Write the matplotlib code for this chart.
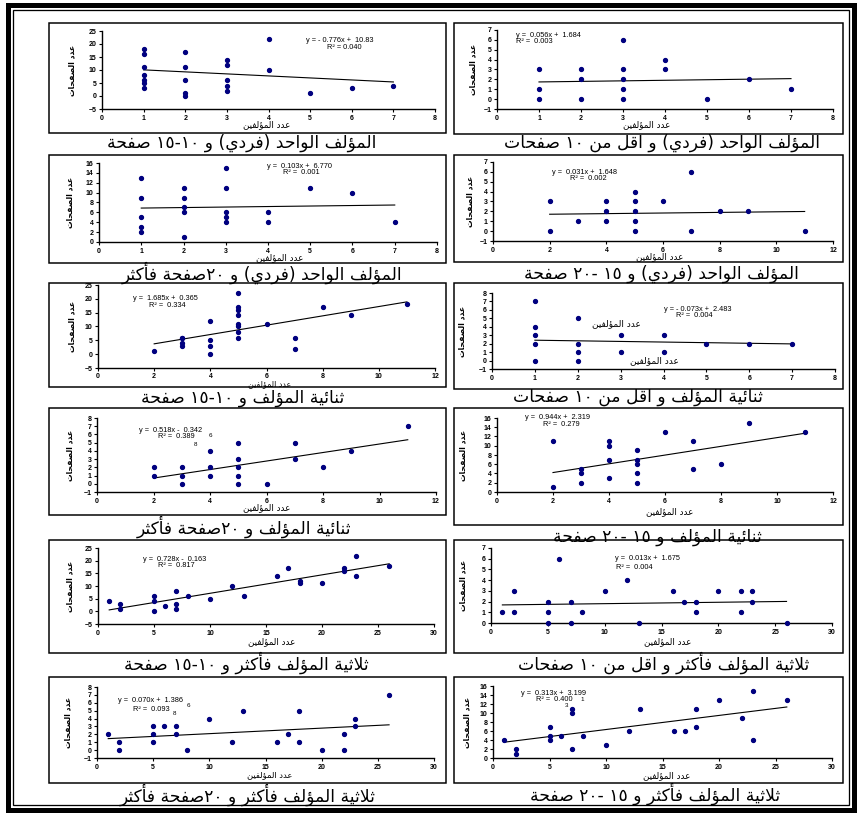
import re
import matplotlib
matplotlib.use('Agg')
import matplotlib.pyplot as plt
from matplotlib.patches import Rectangle

W, H = 859, 813

# ---------------- data ----------------
a_x = [1, 1, 1, 1, 1, 1, 1, 2, 2, 2, 2, 2, 3, 3, 3, 3, 3, 4, 4, 5, 6, 7]
a_y = [18, 16, 11, 8, 6, 5, 3, 17, 11, 6, 1, 0, 14, 12, 6, 4, 2, 22, 10, 1, 3, 4]

b_x = [1, 1, 1, 2, 2, 2, 3, 3, 3, 3, 3, 4, 4, 5, 6, 7]
b_y = [3, 1, 0, 3, 2, 0, 6, 3, 2, 1, 0, 4, 3, 0, 2, 1]

c_x = [1, 1, 1, 1, 1, 2, 2, 2, 2, 2, 3, 3, 3, 3, 3, 4, 4, 5, 6, 7]
c_y = [13, 9, 5, 3, 2, 11, 9, 7, 6, 1, 15, 11, 6, 5, 4, 6, 4, 11, 10, 4]

d_x = [2, 2, 3, 4, 4, 4, 5, 5, 5, 5, 5, 6, 7, 7, 8, 9, 11]
d_y = [3, 0, 1, 3, 2, 1, 4, 3, 2, 1, 0, 3, 6, 0, 2, 2, 0]

e_x = [2, 3, 3, 3, 3, 4, 4, 4, 4, 5, 5, 5, 5, 5, 5, 5, 5, 6, 7, 7, 8, 9, 11]
e_y = [1, 6, 6, 4, 3, 12, 5, 3, 0, 22, 17, 16, 14, 11, 10, 8, 6, 11, 6, 2, 17, 14, 18]

f_x = [1, 1, 1, 1, 1, 2, 2, 2, 2, 3, 3, 4, 4, 5, 6, 7]
f_y = [7, 4, 3, 2, 0, 5, 2, 1, 0, 3, 1, 3, 1, 2, 2, 2]

g_x = [2, 2, 3, 3, 3, 4, 4, 4, 5, 5, 5, 5, 5, 6, 7, 7, 8, 9, 11]
g_y = [2, 1, 2, 1, 0, 4, 2, 1, 5, 3, 2, 1, 0, 0, 5, 3, 2, 4, 7]

h_x = [2, 2, 3, 3, 3, 4, 4, 4, 4, 5, 5, 5, 5, 5, 6, 7, 7, 8, 9, 11]
h_y = [11, 1, 5, 4, 2, 11, 10, 7, 3, 9, 7, 6, 4, 2, 13, 11, 5, 6, 15, 13]

i_x = [1, 2, 2, 5, 5, 5, 6, 7, 7, 7, 8, 10, 12, 13, 16, 17, 18, 18, 20, 22, 22, 23, 23, 26]
i_y = [4, 3, 1, 6, 4, 0, 2, 8, 3, 1, 6, 5, 10, 6, 14, 17, 12, 11, 11, 17, 16, 22, 14, 18]

j_x = [1, 2, 2, 5, 5, 5, 6, 7, 7, 8, 10, 12, 13, 16, 17, 18, 18, 20, 22, 22, 23, 23, 26]
j_y = [1, 3, 1, 2, 1, 0, 6, 2, 0, 1, 3, 4, 0, 3, 2, 2, 1, 3, 3, 1, 3, 2, 0]

k_x = [1, 2, 2, 5, 5, 5, 6, 7, 7, 8, 10, 12, 13, 16, 17, 18, 18, 20, 22, 22, 23, 23, 26]
k_y = [2, 1, 0, 3, 2, 1, 3, 3, 2, 0, 4, 1, 5, 1, 2, 5, 1, 0, 2, 0, 4, 3, 7]

l_x = [1, 2, 2, 5, 5, 5, 6, 7, 7, 7, 8, 10, 12, 13, 16, 17, 18, 18, 20, 22, 23, 23, 26]
l_y = [4, 2, 1, 7, 5, 4, 5, 11, 10, 2, 5, 3, 6, 11, 6, 6, 11, 7, 13, 9, 15, 4, 13]

slopes = [-0.776, 0.056, 0.103, 0.031, 1.685, -0.073, 0.518, 0.944, 0.728, 0.013, 0.070, 0.313]
intercepts = [10.83, 1.684, 6.770, 1.648, 0.365, 2.483, -0.342, 2.319, -0.163, 1.675, 1.386, 3.199]

eq_labels = ["y = - 0.776x +  10.83", "y =  0.056x +  1.684", "y =  0.103x +  6.770",
             "y =  0.031x +  1.648", "y =  1.685x +  0.365", "y = - 0.073x +  2.483",
             "y =  0.518x -  0.342", "y =  0.944x +  2.319", "y =  0.728x -  0.163",
             "y =  0.013x +  1.675", "y =  0.070x +  1.386", "y =  0.313x +  3.199"]
r2_labels = ["R² = 0.040", "R² =  0.003", "R² =  0.001", "R² =  0.002", "R² =  0.334",
             "R² =  0.004", "R² =  0.389", "R² =  0.279", "R² =  0.817", "R² =  0.004",
             "R² =  0.093", "R² =  0.400"]

titles = ["المؤلف الواحد (فردي) و ١٠-١٥ صفحة",
          "المؤلف الواحد (فردي) و اقل من ١٠ صفحات",
          "المؤلف الواحد (فردي) و ٢٠صفحة فأكثر",
          "المؤلف الواحد (فردي) و ١٥ -٢٠ صفحة",
          "ثنائية المؤلف و ١٠-١٥ صفحة",
          "ثنائية المؤلف و اقل من ١٠ صفحات",
          "ثنائية المؤلف و ٢٠صفحة فأكثر",
          "ثنائية المؤلف و ١٥ -٢٠ صفحة",
          "ثلاثية المؤلف فأكثر و ١٠-١٥ صفحة",
          "ثلاثية المؤلف فأكثر و اقل من ١٠ صفحات",
          "ثلاثية المؤلف فأكثر و ٢٠صفحة فأكثر",
          "ثلاثية المؤلف فأكثر و ١٥ -٢٠ صفحة"]
x_label = "عدد المؤلفين"
y_label = "عدد الصفحات"

y_limits = [(-5, 25), (-1, 7), (0, 16), (-1, 7), (-5, 25), (-1, 8),
            (-1, 8), (0, 16), (-5, 25), (0, 7), (-1, 8), (0, 16)]
y_steps = [5, 1, 2, 1, 5, 1, 1, 2, 5, 1, 1, 2]
x_limits = [(0, 8), (0, 8), (0, 8), (0, 12), (0, 12), (0, 8),
            (0, 12), (0, 12), (0, 30), (0, 30), (0, 30), (0, 30)]
x_steps = [1, 1, 1, 2, 2, 1, 2, 2, 5, 5, 5, 5]

xs = [a_x, b_x, c_x, d_x, e_x, f_x, g_x, h_x, i_x, j_x, k_x, l_x]
ys = [a_y, b_y, c_y, d_y, e_y, f_y, g_y, h_y, i_y, j_y, k_y, l_y]

# ---------------- Arabic shaping / visual ordering ----------------
_order = [('ء', 1), ('آ', 2), ('أ', 2), ('ؤ', 2), ('إ', 2), ('ئ', 4), ('ا', 2), ('ب', 4),
          ('ة', 2), ('ت', 4), ('ث', 4), ('ج', 4), ('ح', 4), ('خ', 4), ('د', 2), ('ذ', 2),
          ('ر', 2), ('ز', 2), ('س', 4), ('ش', 4), ('ص', 4), ('ض', 4), ('ط', 4), ('ظ', 4),
          ('ع', 4), ('غ', 4), ('ف', 4), ('ق', 4), ('ك', 4), ('ل', 4), ('م', 4), ('ن', 4),
          ('ه', 4), ('و', 2), ('ى', 2), ('ي', 4)]
FORMS = {}
_cp = 0xFE80
for _ch, _n in _order:
    FORMS[_ch] = [chr(_cp + k) for k in range(_n)]
    _cp += _n
LAMALEF = {'آ': ('\uFEF5', '\uFEF6'), 'أ': ('\uFEF7', '\uFEF8'),
           'إ': ('\uFEF9', '\uFEFA'), 'ا': ('\uFEFB', '\uFEFC')}


def _dual(ch):
    return ch in FORMS and len(FORMS[ch]) == 4


def _joining(ch):
    return ch in FORMS and len(FORMS[ch]) > 1


def shape(s):
    out = []
    i, n = 0, len(s)
    while i < n:
        c = s[i]
        pj = i > 0 and _dual(s[i - 1])
        if c == 'ل' and i + 1 < n and s[i + 1] in LAMALEF:
            iso, fin = LAMALEF[s[i + 1]]
            out.append(fin if pj else iso)
            i += 2
            continue
        if _joining(c):
            f = FORMS[c]
            nj = i + 1 < n and _joining(s[i + 1])
            if len(f) == 4:
                if pj and nj:
                    out.append(f[3])
                elif pj:
                    out.append(f[1])
                elif nj:
                    out.append(f[2])
                else:
                    out.append(f[0])
            else:
                out.append(f[1] if pj else f[0])
        else:
            out.append(c)
        i += 1
    return ''.join(out)


MIRROR = {'(': ')', ')': '('}
DIG = '0-9\u0660-\u0669'


def visual(s):
    toks = re.findall(r'[%s]+(?:[.,][%s]+)*|[^%s]+' % (DIG, DIG, DIG), s)
    out = []
    for t in reversed(toks):
        if re.match(r'[%s]' % DIG, t):
            out.append(t)
        else:
            out.append(''.join(MIRROR.get(ch, ch) for ch in reversed(t)))
    return ''.join(out)


def ar(s):
    return visual(shape(s))


# ---------------- layout (pixels) ----------------
ax_px = [(102, 435, 31, 109), (497, 833, 30, 109),
         (99, 437, 163, 242), (493, 833, 162, 241),
         (98, 435, 285, 368), (492, 835, 293, 369),
         (97, 436, 418, 492), (497, 833, 418, 492),
         (98, 434, 548, 624), (491, 832, 548, 623),
         (97, 434, 687, 758), (493, 832, 686, 758)]
box_rows = [(23, 133), (23, 134), (155, 263), (155, 262), (283, 387), (283, 389),
            (408, 515), (408, 525), (540, 653), (540, 653), (677, 783), (677, 783)]
box_cols = [(49, 446), (454, 843)]
title_px = [(242, 143), (662, 143), (262, 273), (661, 274), (243, 398), (638, 397),
            (244, 527), (657, 537), (246, 663), (664, 663), (248, 795), (655, 794)]
xlabel_px = [(267, 125), (647, 125), (280, 258), (660, 257), (270, 383.5), None,
             (267, 508), (670, 512), (272, 642), (668, 642), (270, 775), (667, 776)]
ylabel_x = [72, 473, 70, 470, 72, 462, 70, 463, 70, 463, 68, 467]
eq_pos = [((4.9, 21.5), (5.4, 18.8)), ((0.45, 6.4), (0.45, 5.8)),
          ((3.97, 15.2), (4.35, 14.0)), ((2.1, 5.9), (2.7, 5.3)),
          ((1.25, 20.3), (1.8, 17.7)), ((4.0, 6.0), (4.3, 5.3)),
          ((1.5, 6.5), (2.15, 5.8)), ((1.0, 16.2), (1.65, 14.6)),
          ((4.0, 20.6), (5.4, 18.2)), ((10.9, 6.0), (11.0, 5.2)),
          ((1.9, 6.35), (3.2, 5.2)), ((2.5, 14.4), (3.8, 13.1))]
stray = {6: [("6", 4.0, 5.9), ("8", 3.5, 4.8)],
         10: [("6", 8.1, 5.6), ("8", 6.9, 4.7)],
         11: [("1", 7.9, 13.1), ("3", 6.5, 11.6)]}
inner_xlabels = {5: [(2.9, 4.35), (3.8, 0.05)]}

PT = 72.0 / 100.0  # points per pixel
AR_FONT = 'DejaVu Sans'
NUM_FONT = 'Liberation Sans'
NAVY = '#00007f'


def fx(px):
    return px / W


def fy(py):
    return 1 - py / H


fig = plt.figure(figsize=(W / 100, H / 100), dpi=100)
fig.patch.set_facecolor('white')

# outer double frame
fig.add_artist(Rectangle((fx(7.5), fy(809.5)), (853.5 - 7.5) / W, (809.5 - 5.5) / H,
                         transform=fig.transFigure, fill=False, lw=5 * PT, ec='black'))
fig.add_artist(Rectangle((fx(12.5), fy(805)), (848.5 - 12.5) / W, (805 - 10.5) / H,
                         transform=fig.transFigure, fill=False, lw=1.3 * PT, ec='black'))

for p in range(12):
    col = p % 2
    bx0, bx1 = box_cols[col]
    by0, by1 = box_rows[p]
    fig.add_artist(Rectangle((fx(bx0), fy(by1)), (bx1 - bx0) / W, (by1 - by0) / H,
                             transform=fig.transFigure, fill=False, lw=1.5 * PT, ec='black'))

    x0, x1, yt, yb = ax_px[p]
    ax = fig.add_axes([fx(x0), fy(yb), (x1 - x0) / W, (yb - yt) / H])
    ax.set_facecolor('none')
    ax.set_xlim(*x_limits[p])
    ax.set_ylim(*y_limits[p])
    ax.set_xticks(list(range(x_limits[p][0], x_limits[p][1] + 1, x_steps[p])))
    ax.set_yticks(list(range(y_limits[p][0], y_limits[p][1] + 1, y_steps[p])))
    for side in ('top', 'right'):
        ax.spines[side].set_visible(False)
    for side in ('left', 'bottom'):
        ax.spines[side].set_linewidth(1.4 * PT)
    ax.tick_params(length=2.5, width=0.8, labelsize=5, pad=1.5, direction='out')
    if p == 4:
        ax.tick_params(axis='x', pad=0.8)
    for lab in ax.get_xticklabels() + ax.get_yticklabels():
        lab.set_family(NUM_FONT)
        lab.set_fontweight('bold')

    ax.plot(xs[p], ys[p], linestyle='none', marker='o', ms=2.8, mfc=NAVY, mec=NAVY,
            clip_on=False, zorder=3)
    xmin, xmax = min(xs[p]), max(xs[p])
    ax.plot([xmin, xmax], [slopes[p] * xmin + intercepts[p], slopes[p] * xmax + intercepts[p]],
            color='black', lw=0.8, clip_on=False, zorder=2)

    (ex, ey), (rx, ry) = eq_pos[p]
    ax.text(ex, ey, eq_labels[p], family=NUM_FONT, fontsize=5.3, ha='left', va='center')
    ax.text(rx, ry, r2_labels[p], family=NUM_FONT, fontsize=5.3, ha='left', va='center')
    for s, sx, sy in stray.get(p, []):
        ax.text(sx, sy, s, family=NUM_FONT, fontsize=4.5, ha='center', va='center')
    for sx, sy in inner_xlabels.get(p, []):
        ax.text(sx, sy, ar(x_label), family=AR_FONT, fontsize=6.5, ha='center', va='center')

    fig.text(fx(ylabel_x[p]), fy((yt + yb) / 2), ar(y_label), family=AR_FONT, fontsize=5.5,
             fontweight='bold', rotation=90, ha='center', va='center')
    if xlabel_px[p] is not None:
        lx, ly = xlabel_px[p]
        fs = 5.7 if p == 4 else (6.0 if p == 10 else 6.3)
        fig.text(fx(lx), fy(ly), ar(x_label), family=AR_FONT, fontsize=fs,
                 ha='center', va='center')
    tx, ty = title_px[p]
    fig.text(fx(tx), fy(ty), ar(titles[p]), family=AR_FONT, fontsize=12.3,
             ha='center', va='center')

fig.savefig('out.png', dpi=100)
